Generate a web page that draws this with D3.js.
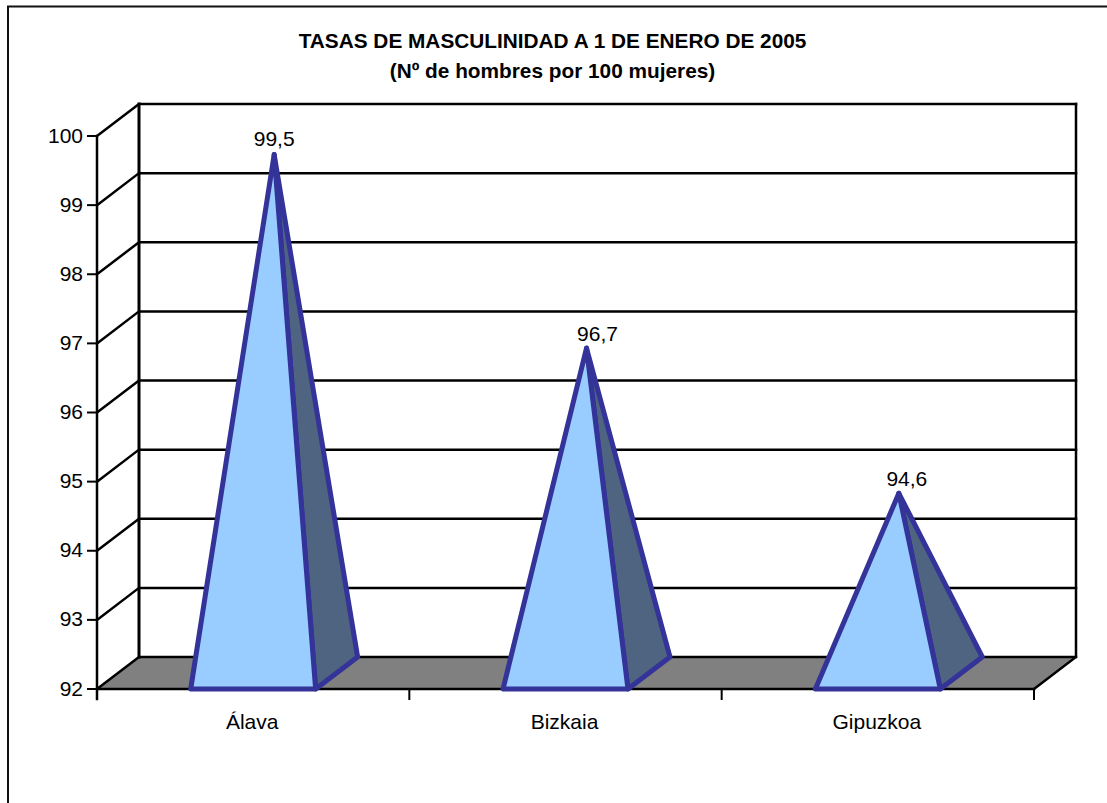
<!DOCTYPE html>
<html><head><meta charset="utf-8">
<script src="https://cdn.jsdelivr.net/npm/d3@7/dist/d3.min.js"></script>
<style>html,body{margin:0;padding:0;background:#fff;overflow:hidden}svg{display:block}text{font-family:"Liberation Sans",Arial,sans-serif;fill:#000}</style>
</head><body><svg id="c" width="1107" height="803"></svg>
<script>
const categories = ["Álava","Bizkaia","Gipuzkoa"];
const values = [99.5,96.7,94.6];
const valueLabels = ["99,5","96,7","94,6"];
const yTicks = [92,93,94,95,96,97,98,99,100];
const titleLines = ["TASAS DE MASCULINIDAD A 1 DE ENERO DE 2005","(Nº de hombres por 100 mujeres)"];

const svg = d3.select("#c");
const dx = 42, dy = -32;
const y = d3.scaleLinear().domain([92,100]).range([689,136]);
const x = d3.scaleBand().domain(categories).range([97,1034]).paddingInner(0.6).paddingOuter(0.3);
const bandOuter = d3.scaleBand().domain(categories).range([97,1034]);
const line = d3.line();
// hand-placed nudges of the value labels relative to each apex
const labelNudge = {"Álava":[0,-9],"Bizkaia":[11,-7],"Gipuzkoa":[8,-7]};

// chart frame
svg.append("rect").attr("x",8).attr("y",6.5).attr("width",1130).attr("height",830)
  .attr("fill","#fff").attr("stroke","#111").attr("stroke-width",2);

// title
svg.append("g").selectAll("text").data(titleLines).join("text")
  .attr("x",552.5).attr("y",(d,i)=>48+i*30).attr("text-anchor","middle")
  .attr("font-size",20.8).attr("font-weight","bold").text(d=>d);

const [x0,x1] = bandOuter.range();
const yB = y(92), yT = y(100);

// floor
svg.append("path").attr("d",line([[x0,yB],[x1,yB],[x1+dx,yB+dy],[x0+dx,yB+dy]])+"Z").attr("fill","#808080");

const axes = svg.append("g").attr("stroke","#000").attr("fill","none").attr("stroke-linecap","square");
// back wall grid + side wall lines
axes.selectAll(".g").data(yTicks).join("path").attr("class","g")
  .attr("stroke-width",2.5)
  .attr("d",d=>line([[x0,y(d)],[x0+dx,y(d)+dy],[x1+dx,y(d)+dy]]));
// back wall verticals
axes.append("path").attr("stroke-width",3).attr("d",line([[x0+dx,yT+dy],[x0+dx,yB+dy]]));
axes.append("path").attr("stroke-width",2.5).attr("d",line([[x1+dx,yT+dy],[x1+dx,yB+dy],[x1,yB]]));
// front axes
axes.append("path").attr("stroke-width",2.5).attr("d",line([[x0,yT],[x0,yB+10]]));
axes.append("path").attr("stroke-width",2.5).attr("d",line([[x0,yB],[x1,yB]]));
// ticks
axes.selectAll(".ty").data(yTicks).join("path").attr("class","ty").attr("stroke-width",2)
  .attr("d",d=>line([[x0-9,y(d)],[x0,y(d)]]));
axes.selectAll(".tx").data(categories).join("path").attr("class","tx").attr("stroke-width",2)
  .attr("d",d=>{const p=bandOuter(d)+bandOuter.bandwidth();return line([[p,yB],[p,yB+10]]);});

// y labels
svg.append("g").selectAll("text").data(yTicks).join("text")
  .attr("x",83).attr("y",d=>y(d)+6.5).attr("text-anchor","end").attr("font-size",21).text(d=>d);
// x labels
svg.append("g").selectAll("text").data(categories).join("text")
  .attr("x",d=>x(d)+x.bandwidth()/2-1).attr("y",729).attr("text-anchor","middle").attr("font-size",21).text(d=>d);

// pyramids
const g = svg.append("g").selectAll("g").data(categories).join("g")
  .attr("stroke","#333399").attr("stroke-width",5).attr("stroke-linejoin","round");
const apex = (c,i)=>[x(c)+x.bandwidth()/2+dx/2, y(values[i])+dy/2];
g.append("path").attr("fill","#4F6480")
  .attr("d",(c,i)=>line([apex(c,i),[x(c)+x.bandwidth(),yB],[x(c)+x.bandwidth()+dx,yB+dy]])+"Z");
g.append("path").attr("fill","#99CCFF")
  .attr("d",(c,i)=>line([apex(c,i),[x(c),yB],[x(c)+x.bandwidth(),yB]])+"Z");

// value labels
svg.append("g").selectAll("text").data(categories).join("text")
  .attr("x",(c,i)=>apex(c,i)[0]+labelNudge[c][0]).attr("y",(c,i)=>apex(c,i)[1]+labelNudge[c][1])
  .attr("text-anchor","middle").attr("font-size",21).text((c,i)=>valueLabels[i]);
</script></body></html>
